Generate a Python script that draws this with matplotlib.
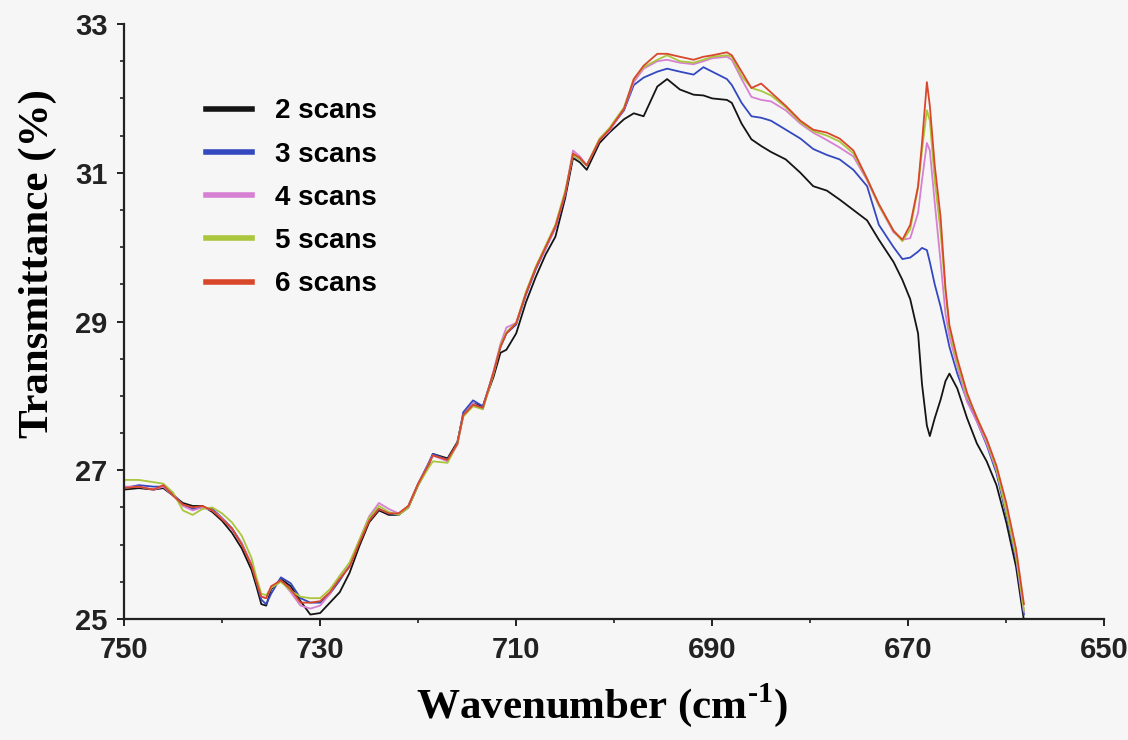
import matplotlib
matplotlib.use("Agg")
import matplotlib.pyplot as plt
from matplotlib.ticker import MultipleLocator

# IR spectra recorded with different numbers of scans
wavenumber = [750, 748.5, 747, 746, 745, 744, 743, 742, 741, 740, 739, 738, 737, 736.5, 736,
              735.5, 735, 734, 733, 732, 731, 730, 729, 728, 727, 726, 725, 724, 723, 722,
              721, 720, 719, 718.5, 717, 716, 715.4, 714.4, 713.4, 712.3, 711.6, 711, 710,
              709, 708, 707, 706, 705, 704.2, 703.5, 702.8, 701.5, 700.5, 699, 698, 697,
              695.6, 694.6, 693.3, 691.9, 690.9, 690, 688.5, 688, 687, 686, 685, 684, 682.5,
              681, 679.7, 678.3, 677, 675.6, 674.2, 673, 671.5, 670.6, 669.8, 669, 668.6,
              668.1, 667.8, 667.3, 666.7, 666.2, 665.8, 665, 664, 663, 662, 661, 660, 659, 658.2]

scans_2 = [26.74, 26.76, 26.74, 26.76, 26.66, 26.56, 26.52, 26.52, 26.44, 26.32, 26.16, 25.95,
           25.66, 25.44, 25.20, 25.18, 25.40, 25.54, 25.44, 25.24, 25.06, 25.08, 25.22, 25.36,
           25.62, 25.98, 26.30, 26.46, 26.40, 26.40, 26.50, 26.80, 27.04, 27.22, 27.16, 27.38,
           27.74, 27.90, 27.86, 28.26, 28.58, 28.62, 28.84, 29.26, 29.60, 29.90, 30.14, 30.66,
           31.20, 31.14, 31.04, 31.40, 31.54, 31.72, 31.80, 31.76, 32.16, 32.26, 32.12, 32.05,
           32.04, 32.00, 31.98, 31.94, 31.66, 31.45, 31.36, 31.28, 31.18, 31.00, 30.82, 30.76,
           30.64, 30.50, 30.36, 30.10, 29.80, 29.56, 29.30, 28.84, 28.16, 27.60, 27.46, 27.70,
           27.95, 28.20, 28.30, 28.10, 27.70, 27.36, 27.12, 26.80, 26.30, 25.70, 24.98]

scans_3 = [26.76, 26.80, 26.78, 26.78, 26.68, 26.54, 26.48, 26.50, 26.48, 26.36, 26.22, 26.02,
           25.72, 25.50, 25.26, 25.20, 25.34, 25.56, 25.48, 25.28, 25.22, 25.22, 25.34, 25.52,
           25.72, 26.04, 26.34, 26.48, 26.42, 26.40, 26.52, 26.82, 27.08, 27.22, 27.14, 27.36,
           27.78, 27.94, 27.86, 28.32, 28.66, 28.84, 28.96, 29.36, 29.70, 29.98, 30.26, 30.70,
           31.24, 31.18, 31.10, 31.44, 31.58, 31.84, 32.18, 32.28, 32.36, 32.40, 32.36, 32.32,
           32.42, 32.36, 32.26, 32.18, 31.94, 31.76, 31.74, 31.70, 31.58, 31.46, 31.32, 31.24,
           31.18, 31.04, 30.82, 30.30, 30.00, 29.84, 29.86, 29.94, 29.99, 29.96, 29.80, 29.50,
           29.20, 28.90, 28.66, 28.30, 27.94, 27.66, 27.34, 26.96, 26.40, 25.80, 25.06]

scans_4 = [26.78, 26.78, 26.74, 26.78, 26.66, 26.52, 26.46, 26.50, 26.46, 26.36, 26.20, 26.02,
           25.74, 25.52, 25.30, 25.28, 25.42, 25.52, 25.36, 25.18, 25.14, 25.18, 25.34, 25.58,
           25.74, 26.06, 26.38, 26.56, 26.48, 26.42, 26.52, 26.82, 27.06, 27.20, 27.12, 27.34,
           27.74, 27.90, 27.82, 28.34, 28.70, 28.92, 28.98, 29.38, 29.72, 29.98, 30.26, 30.72,
           31.30, 31.22, 31.10, 31.44, 31.56, 31.86, 32.22, 32.40, 32.50, 32.52, 32.48, 32.46,
           32.50, 32.54, 32.56, 32.52, 32.26, 32.02, 31.98, 31.96, 31.84, 31.66, 31.54, 31.44,
           31.34, 31.22, 30.90, 30.56, 30.20, 30.10, 30.12, 30.46, 30.90, 31.40, 31.30, 30.60,
           29.80, 29.10, 28.80, 28.40, 27.92, 27.66, 27.36, 27.00, 26.46, 25.84, 25.10]

scans_5 = [26.87, 26.87, 26.84, 26.82, 26.70, 26.46, 26.40, 26.48, 26.50, 26.42, 26.30, 26.12,
           25.82, 25.56, 25.34, 25.32, 25.42, 25.50, 25.38, 25.30, 25.28, 25.28, 25.40, 25.58,
           25.76, 26.06, 26.36, 26.52, 26.44, 26.40, 26.50, 26.80, 27.02, 27.12, 27.10, 27.36,
           27.72, 27.86, 27.82, 28.30, 28.68, 28.86, 28.98, 29.40, 29.74, 30.02, 30.30, 30.76,
           31.24, 31.18, 31.10, 31.46, 31.60, 31.88, 32.26, 32.42, 32.52, 32.58, 32.50, 32.48,
           32.52, 32.56, 32.58, 32.56, 32.30, 32.14, 32.10, 32.04, 31.88, 31.68, 31.56, 31.50,
           31.42, 31.26, 30.92, 30.56, 30.22, 30.08, 30.24, 30.80, 31.30, 31.84, 31.70, 30.90,
           30.20, 29.40, 28.90, 28.44, 28.00, 27.72, 27.40, 27.02, 26.44, 25.86, 25.12]

scans_6 = [26.76, 26.78, 26.74, 26.80, 26.66, 26.54, 26.50, 26.52, 26.46, 26.34, 26.22, 26.00,
           25.72, 25.50, 25.30, 25.28, 25.44, 25.52, 25.40, 25.22, 25.22, 25.24, 25.36, 25.54,
           25.70, 26.02, 26.32, 26.48, 26.42, 26.42, 26.52, 26.82, 27.06, 27.20, 27.14, 27.36,
           27.74, 27.88, 27.84, 28.32, 28.66, 28.84, 28.98, 29.38, 29.72, 30.00, 30.28, 30.72,
           31.26, 31.20, 31.10, 31.44, 31.58, 31.86, 32.26, 32.44, 32.60, 32.60, 32.56, 32.52,
           32.56, 32.58, 32.62, 32.58, 32.36, 32.14, 32.20, 32.08, 31.90, 31.70, 31.58, 31.54,
           31.46, 31.30, 30.92, 30.58, 30.22, 30.10, 30.30, 30.82, 31.40, 32.22, 31.90, 31.10,
           30.40, 29.44, 28.95, 28.50, 28.04, 27.70, 27.42, 27.06, 26.56, 25.94, 25.20]

series = [scans_2, scans_3, scans_4, scans_5, scans_6]
labels = ["2 scans", "3 scans", "4 scans", "5 scans", "6 scans"]
colors = ["#141414", "#3448c0", "#d77fd2", "#a9c63c", "#d9472b"]

plt.rcParams["mathtext.fontset"] = "custom"
plt.rcParams["mathtext.rm"] = "Liberation Serif:bold"
plt.rcParams["mathtext.bf"] = "Liberation Serif:bold"

bg = "#f6f6f6"
fig = plt.figure(figsize=(11.28, 7.40), dpi=100, facecolor=bg)
ax = fig.add_axes([0.110, 0.1635, 0.869, 0.804], facecolor=bg)

for vals, lab, col in zip(series, labels, colors):
    ax.plot(wavenumber, vals, color=col, lw=1.3, label=lab)

ax.set_xlim(750, 650)
ax.set_ylim(25, 33)
ax.xaxis.set_major_locator(MultipleLocator(20, offset=10))
ax.xaxis.set_minor_locator(MultipleLocator(10))
ax.yaxis.set_major_locator(MultipleLocator(2, offset=1))
ax.yaxis.set_minor_locator(MultipleLocator(0.5))

for s in ["top", "right"]:
    ax.spines[s].set_visible(False)
for s in ["left", "bottom"]:
    ax.spines[s].set_linewidth(1.6)
    ax.spines[s].set_color("#222222")

ax.tick_params(which="major", direction="out", length=5, width=1.4, pad=7,
               labelsize=21, colors="#222222")
ax.tick_params(which="minor", direction="out", length=3, width=1.2, colors="#222222")
for t in ax.get_xticklabels() + ax.get_yticklabels():
    t.set_fontfamily("Liberation Sans")
    t.set_fontweight("bold")

ax.set_xlabel(r"Wavenumber (cm$^{\text{-1}}$)", fontfamily="Liberation Serif",
              fontweight="bold", fontsize=31)
ax.xaxis.set_label_coords(0.488, -0.105)
ax.set_ylabel("Transmittance (%)", fontfamily="Liberation Serif",
              fontweight="bold", fontsize=31)
ax.yaxis.set_label_coords(-0.068, 0.598)

leg = ax.legend(loc="upper left", bbox_to_anchor=(0.1825, 0.867),
                bbox_transform=fig.transFigure, frameon=False,
                prop={"family": "Liberation Sans", "weight": "bold", "size": 20},
                handlelength=1.65, handletextpad=0.85, labelspacing=0.62,
                borderpad=0, borderaxespad=0)
for line in leg.get_lines():
    line.set_linewidth(4)

fig.savefig("out.png", dpi=100, facecolor=bg)
